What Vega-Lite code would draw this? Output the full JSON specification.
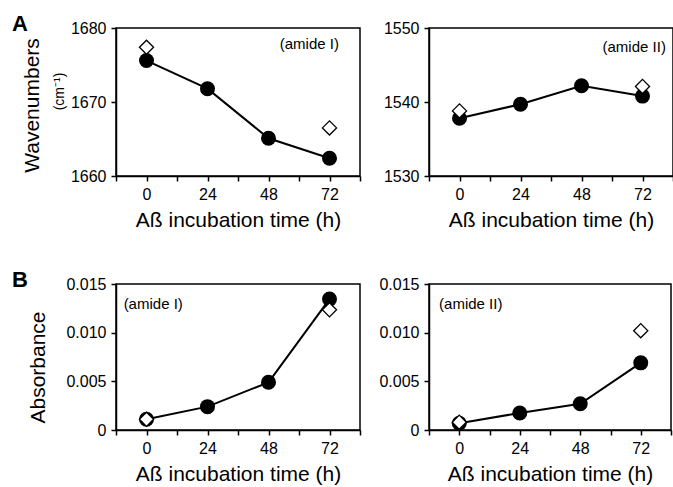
{
  "$schema": "https://vega.github.io/schema/vega-lite/v6.json",
  "padding": {"left": 11, "top": 12, "right": 0, "bottom": 0},
  "background": "white",
  "config": {
    "font": "Liberation Sans",
    "view": {"stroke": "black", "strokeWidth": 1.5},
    "axis": {"domainColor": "black", "domainWidth": 1.5, "tickColor": "black", "tickWidth": 1.5, "tickSize": 5, "labelColor": "black", "titleColor": "black", "labelFontSize": 16, "titleFontSize": 21, "titleFontWeight": "normal", "grid": false, "labelFlush": false, "labelOverlap": false, "labelPadding": 5},
    "title": {"fontSize": 22, "fontWeight": "bold", "color": "black", "anchor": "start", "frame": "group"}
  },
  "datasets": {
    "pts": [
      {"panel": "A1", "kind": "filled", "time": 0, "value": 1675.6},
      {"panel": "A1", "kind": "filled", "time": 24, "value": 1671.8},
      {"panel": "A1", "kind": "filled", "time": 48, "value": 1665.1},
      {"panel": "A1", "kind": "filled", "time": 72, "value": 1662.4},
      {"panel": "A1", "kind": "open", "time": 0, "value": 1677.4},
      {"panel": "A1", "kind": "open", "time": 72, "value": 1666.5},
      {"panel": "A2", "kind": "filled", "time": 0, "value": 1537.8},
      {"panel": "A2", "kind": "filled", "time": 24, "value": 1539.7},
      {"panel": "A2", "kind": "filled", "time": 48, "value": 1542.2},
      {"panel": "A2", "kind": "filled", "time": 72, "value": 1540.8},
      {"panel": "A2", "kind": "open", "time": 0, "value": 1538.8},
      {"panel": "A2", "kind": "open", "time": 72, "value": 1542.1},
      {"panel": "B1", "kind": "filled", "time": 0, "value": 0.0011},
      {"panel": "B1", "kind": "filled", "time": 24, "value": 0.0024},
      {"panel": "B1", "kind": "filled", "time": 48, "value": 0.0049},
      {"panel": "B1", "kind": "filled", "time": 72, "value": 0.01345},
      {"panel": "B1", "kind": "open", "time": 0, "value": 0.0011},
      {"panel": "B1", "kind": "open", "time": 72, "value": 0.01235},
      {"panel": "B2", "kind": "filled", "time": 0, "value": 0.0007},
      {"panel": "B2", "kind": "filled", "time": 24, "value": 0.00175},
      {"panel": "B2", "kind": "filled", "time": 48, "value": 0.0027},
      {"panel": "B2", "kind": "filled", "time": 72, "value": 0.0069},
      {"panel": "B2", "kind": "open", "time": 0, "value": 0.0008},
      {"panel": "B2", "kind": "open", "time": 72, "value": 0.0102}
    ],
    "notes": [
      {"panel": "A1", "label": "(amide I)"},
      {"panel": "A2", "label": "(amide II)"},
      {"panel": "B1", "label": "(amide I)"},
      {"panel": "B2", "label": "(amide II)"}
    ]
  },
  "bounds": "flush",
  "columns": 2,
  "spacing": {"row": 108, "column": 69},
  "concat": [
    {
      "width": 244, "height": 148,
      "title": {"text": "A", "dx": -104, "dy": 20},
      "resolve": {"axis": {"y": "independent"}},
      "layer": [
        {
          "data": {"name": "pts"},
          "transform": [{"filter": "datum.panel == 'A1' && datum.kind == 'filled'"}],
          "mark": {"type": "line", "color": "black", "strokeWidth": 2},
          "encoding": {
            "x": {"field": "time", "type": "quantitative", "scale": {"domain": [-12, 84], "nice": false}, "axis": {"values": [-12, 0, 12, 24, 36, 48, 60, 72, 84], "labelExpr": "(datum.value % 24 == 0 && datum.value >= 0) ? datum.label : ''", "title": "Aß incubation time (h)", "titlePadding": 7}},
            "y": {"field": "value", "type": "quantitative", "scale": {"domain": [1660, 1680], "nice": false, "zero": false}, "axis": {"orient": "left", "values": [1660, 1670, 1680], "format": "d", "title": "Wavenumbers", "titleX": -78, "titleY": 77, "titleAngle": -90, "titleBaseline": "alphabetic", "titleAlign": "center"}}
          }
        },
        {
          "data": {"name": "pts"},
          "transform": [{"filter": "datum.panel == 'A1' && datum.kind == 'filled'"}],
          "mark": {"type": "point", "shape": "circle", "filled": true, "color": "black", "size": 225, "opacity": 1},
          "encoding": {
            "x": {"field": "time", "type": "quantitative", "scale": {"domain": [-12, 84], "nice": false}, "axis": {"values": [-12, 0, 12, 24, 36, 48, 60, 72, 84], "labelExpr": "(datum.value % 24 == 0 && datum.value >= 0) ? datum.label : ''", "title": "Aß incubation time (h)", "titlePadding": 7}},
            "y": {"field": "value", "type": "quantitative", "scale": {"domain": [1660, 1680], "nice": false, "zero": false}, "axis": {"orient": "left", "title": "(cm⁻¹)", "labels": false, "ticks": false, "domain": false, "titleFontSize": 14, "titleX": -53, "titleY": 63, "titleAngle": -90, "titleBaseline": "alphabetic", "titleAlign": "center"}}
          }
        },
        {
          "data": {"name": "pts"},
          "transform": [{"filter": "datum.panel == 'A1' && datum.kind == 'open'"}],
          "mark": {"type": "point", "shape": "diamond", "filled": true, "fill": "white", "stroke": "black", "strokeWidth": 1.3, "size": 200, "opacity": 1},
          "encoding": {
            "x": {"field": "time", "type": "quantitative", "scale": {"domain": [-12, 84], "nice": false}, "axis": {"values": [-12, 0, 12, 24, 36, 48, 60, 72, 84], "labelExpr": "(datum.value % 24 == 0 && datum.value >= 0) ? datum.label : ''", "title": "Aß incubation time (h)", "titlePadding": 7}},
            "y": {"field": "value", "type": "quantitative", "scale": {"domain": [1660, 1680], "nice": false, "zero": false}, "axis": null}
          }
        },
        {
          "data": {"name": "notes"},
          "transform": [{"filter": "datum.panel == 'A1'"}],
          "mark": {"type": "text", "align": "right", "baseline": "middle", "fontSize": 15, "color": "black"},
          "encoding": {
            "x": {"datum": 75.7, "type": "quantitative", "scale": {"domain": [-12, 84], "nice": false}, "axis": {"values": [-12, 0, 12, 24, 36, 48, 60, 72, 84], "labelExpr": "(datum.value % 24 == 0 && datum.value >= 0) ? datum.label : ''", "title": "Aß incubation time (h)", "titlePadding": 7}},
            "y": {"datum": 1677.8, "type": "quantitative", "axis": null},
            "text": {"field": "label"}
          }
        }
      ]
    },
    {
      "width": 244, "height": 148,
      "layer": [
        {
          "data": {"name": "pts"},
          "transform": [{"filter": "datum.panel == 'A2' && datum.kind == 'filled'"}],
          "mark": {"type": "line", "color": "black", "strokeWidth": 2},
          "encoding": {
            "x": {"field": "time", "type": "quantitative", "scale": {"domain": [-12, 84], "nice": false}, "axis": {"values": [-12, 0, 12, 24, 36, 48, 60, 72, 84], "labelExpr": "(datum.value % 24 == 0 && datum.value >= 0) ? datum.label : ''", "title": "Aß incubation time (h)", "titlePadding": 7}},
            "y": {"field": "value", "type": "quantitative", "scale": {"domain": [1530, 1550], "nice": false, "zero": false}, "axis": {"values": [1530, 1540, 1550], "format": "d", "title": null}}
          }
        },
        {
          "data": {"name": "pts"},
          "transform": [{"filter": "datum.panel == 'A2' && datum.kind == 'filled'"}],
          "mark": {"type": "point", "shape": "circle", "filled": true, "color": "black", "size": 225, "opacity": 1},
          "encoding": {
            "x": {"field": "time", "type": "quantitative", "scale": {"domain": [-12, 84], "nice": false}, "axis": {"values": [-12, 0, 12, 24, 36, 48, 60, 72, 84], "labelExpr": "(datum.value % 24 == 0 && datum.value >= 0) ? datum.label : ''", "title": "Aß incubation time (h)", "titlePadding": 7}},
            "y": {"field": "value", "type": "quantitative", "scale": {"domain": [1530, 1550], "nice": false, "zero": false}, "axis": {"values": [1530, 1540, 1550], "format": "d", "title": null}}
          }
        },
        {
          "data": {"name": "pts"},
          "transform": [{"filter": "datum.panel == 'A2' && datum.kind == 'open'"}],
          "mark": {"type": "point", "shape": "diamond", "filled": true, "fill": "white", "stroke": "black", "strokeWidth": 1.3, "size": 200, "opacity": 1},
          "encoding": {
            "x": {"field": "time", "type": "quantitative", "scale": {"domain": [-12, 84], "nice": false}, "axis": {"values": [-12, 0, 12, 24, 36, 48, 60, 72, 84], "labelExpr": "(datum.value % 24 == 0 && datum.value >= 0) ? datum.label : ''", "title": "Aß incubation time (h)", "titlePadding": 7}},
            "y": {"field": "value", "type": "quantitative", "scale": {"domain": [1530, 1550], "nice": false, "zero": false}, "axis": {"values": [1530, 1540, 1550], "format": "d", "title": null}}
          }
        },
        {
          "data": {"name": "notes"},
          "transform": [{"filter": "datum.panel == 'A2'"}],
          "mark": {"type": "text", "align": "right", "baseline": "middle", "fontSize": 15, "color": "black"},
          "encoding": {
            "x": {"datum": 81.2, "type": "quantitative", "scale": {"domain": [-12, 84], "nice": false}, "axis": {"values": [-12, 0, 12, 24, 36, 48, 60, 72, 84], "labelExpr": "(datum.value % 24 == 0 && datum.value >= 0) ? datum.label : ''", "title": "Aß incubation time (h)", "titlePadding": 7}},
            "y": {"datum": 1547.4, "type": "quantitative", "scale": {"domain": [1530, 1550], "nice": false, "zero": false}, "axis": {"values": [1530, 1540, 1550], "format": "d", "title": null}},
            "text": {"field": "label"}
          }
        }
      ]
    },
    {
      "width": 244, "height": 146,
      "title": {"text": "B", "dx": -104, "dy": 20},
      "layer": [
        {
          "data": {"name": "pts"},
          "transform": [{"filter": "datum.panel == 'B1' && datum.kind == 'filled'"}],
          "mark": {"type": "line", "color": "black", "strokeWidth": 2},
          "encoding": {
            "x": {"field": "time", "type": "quantitative", "scale": {"domain": [-12, 84], "nice": false}, "axis": {"values": [-12, 0, 12, 24, 36, 48, 60, 72, 84], "labelExpr": "(datum.value % 24 == 0 && datum.value >= 0) ? datum.label : ''", "title": "Aß incubation time (h)", "titlePadding": 7}},
            "y": {"field": "value", "type": "quantitative", "scale": {"domain": [0, 0.015], "nice": false}, "axis": {"values": [0, 0.005, 0.01, 0.015], "labelExpr": "datum.value == 0 ? '0' : format(datum.value, '.3f')", "title": "Absorbance", "titleX": -72, "titleY": 83, "titleAngle": -90, "titleBaseline": "alphabetic", "titleAlign": "center"}}
          }
        },
        {
          "data": {"name": "pts"},
          "transform": [{"filter": "datum.panel == 'B1' && datum.kind == 'filled'"}],
          "mark": {"type": "point", "shape": "circle", "filled": true, "color": "black", "size": 225, "opacity": 1},
          "encoding": {
            "x": {"field": "time", "type": "quantitative", "scale": {"domain": [-12, 84], "nice": false}, "axis": {"values": [-12, 0, 12, 24, 36, 48, 60, 72, 84], "labelExpr": "(datum.value % 24 == 0 && datum.value >= 0) ? datum.label : ''", "title": "Aß incubation time (h)", "titlePadding": 7}},
            "y": {"field": "value", "type": "quantitative", "scale": {"domain": [0, 0.015], "nice": false}, "axis": {"values": [0, 0.005, 0.01, 0.015], "labelExpr": "datum.value == 0 ? '0' : format(datum.value, '.3f')", "title": "Absorbance", "titleX": -72, "titleY": 83, "titleAngle": -90, "titleBaseline": "alphabetic", "titleAlign": "center"}}
          }
        },
        {
          "data": {"name": "pts"},
          "transform": [{"filter": "datum.panel == 'B1' && datum.kind == 'open'"}],
          "mark": {"type": "point", "shape": "diamond", "filled": true, "fill": "white", "stroke": "black", "strokeWidth": 1.3, "size": 200, "opacity": 1},
          "encoding": {
            "x": {"field": "time", "type": "quantitative", "scale": {"domain": [-12, 84], "nice": false}, "axis": {"values": [-12, 0, 12, 24, 36, 48, 60, 72, 84], "labelExpr": "(datum.value % 24 == 0 && datum.value >= 0) ? datum.label : ''", "title": "Aß incubation time (h)", "titlePadding": 7}},
            "y": {"field": "value", "type": "quantitative", "scale": {"domain": [0, 0.015], "nice": false}, "axis": {"values": [0, 0.005, 0.01, 0.015], "labelExpr": "datum.value == 0 ? '0' : format(datum.value, '.3f')", "title": "Absorbance", "titleX": -72, "titleY": 83, "titleAngle": -90, "titleBaseline": "alphabetic", "titleAlign": "center"}}
          }
        },
        {
          "data": {"name": "notes"},
          "transform": [{"filter": "datum.panel == 'B1'"}],
          "mark": {"type": "text", "align": "left", "baseline": "middle", "fontSize": 15, "color": "black"},
          "encoding": {
            "x": {"datum": -9, "type": "quantitative", "scale": {"domain": [-12, 84], "nice": false}, "axis": {"values": [-12, 0, 12, 24, 36, 48, 60, 72, 84], "labelExpr": "(datum.value % 24 == 0 && datum.value >= 0) ? datum.label : ''", "title": "Aß incubation time (h)", "titlePadding": 7}},
            "y": {"datum": 0.01295, "type": "quantitative", "scale": {"domain": [0, 0.015], "nice": false}, "axis": {"values": [0, 0.005, 0.01, 0.015], "labelExpr": "datum.value == 0 ? '0' : format(datum.value, '.3f')", "title": "Absorbance", "titleX": -72, "titleY": 83, "titleAngle": -90, "titleBaseline": "alphabetic", "titleAlign": "center"}},
            "text": {"field": "label"}
          }
        }
      ]
    },
    {
      "width": 242, "height": 146,
      "layer": [
        {
          "data": {"name": "pts"},
          "transform": [{"filter": "datum.panel == 'B2' && datum.kind == 'filled'"}],
          "mark": {"type": "line", "color": "black", "strokeWidth": 2},
          "encoding": {
            "x": {"field": "time", "type": "quantitative", "scale": {"domain": [-12, 84], "nice": false}, "axis": {"values": [-12, 0, 12, 24, 36, 48, 60, 72, 84], "labelExpr": "(datum.value % 24 == 0 && datum.value >= 0) ? datum.label : ''", "title": "Aß incubation time (h)", "titlePadding": 7}},
            "y": {"field": "value", "type": "quantitative", "scale": {"domain": [0, 0.015], "nice": false}, "axis": {"values": [0, 0.005, 0.01, 0.015], "labelExpr": "datum.value == 0 ? '0' : format(datum.value, '.3f')", "title": null}}
          }
        },
        {
          "data": {"name": "pts"},
          "transform": [{"filter": "datum.panel == 'B2' && datum.kind == 'filled'"}],
          "mark": {"type": "point", "shape": "circle", "filled": true, "color": "black", "size": 225, "opacity": 1},
          "encoding": {
            "x": {"field": "time", "type": "quantitative", "scale": {"domain": [-12, 84], "nice": false}, "axis": {"values": [-12, 0, 12, 24, 36, 48, 60, 72, 84], "labelExpr": "(datum.value % 24 == 0 && datum.value >= 0) ? datum.label : ''", "title": "Aß incubation time (h)", "titlePadding": 7}},
            "y": {"field": "value", "type": "quantitative", "scale": {"domain": [0, 0.015], "nice": false}, "axis": {"values": [0, 0.005, 0.01, 0.015], "labelExpr": "datum.value == 0 ? '0' : format(datum.value, '.3f')", "title": null}}
          }
        },
        {
          "data": {"name": "pts"},
          "transform": [{"filter": "datum.panel == 'B2' && datum.kind == 'open'"}],
          "mark": {"type": "point", "shape": "diamond", "filled": true, "fill": "white", "stroke": "black", "strokeWidth": 1.3, "size": 200, "opacity": 1},
          "encoding": {
            "x": {"field": "time", "type": "quantitative", "scale": {"domain": [-12, 84], "nice": false}, "axis": {"values": [-12, 0, 12, 24, 36, 48, 60, 72, 84], "labelExpr": "(datum.value % 24 == 0 && datum.value >= 0) ? datum.label : ''", "title": "Aß incubation time (h)", "titlePadding": 7}},
            "y": {"field": "value", "type": "quantitative", "scale": {"domain": [0, 0.015], "nice": false}, "axis": {"values": [0, 0.005, 0.01, 0.015], "labelExpr": "datum.value == 0 ? '0' : format(datum.value, '.3f')", "title": null}}
          }
        },
        {
          "data": {"name": "notes"},
          "transform": [{"filter": "datum.panel == 'B2'"}],
          "mark": {"type": "text", "align": "left", "baseline": "middle", "fontSize": 15, "color": "black"},
          "encoding": {
            "x": {"datum": -8, "type": "quantitative", "scale": {"domain": [-12, 84], "nice": false}, "axis": {"values": [-12, 0, 12, 24, 36, 48, 60, 72, 84], "labelExpr": "(datum.value % 24 == 0 && datum.value >= 0) ? datum.label : ''", "title": "Aß incubation time (h)", "titlePadding": 7}},
            "y": {"datum": 0.01298, "type": "quantitative", "scale": {"domain": [0, 0.015], "nice": false}, "axis": {"values": [0, 0.005, 0.01, 0.015], "labelExpr": "datum.value == 0 ? '0' : format(datum.value, '.3f')", "title": null}},
            "text": {"field": "label"}
          }
        }
      ]
    }
  ]
}
